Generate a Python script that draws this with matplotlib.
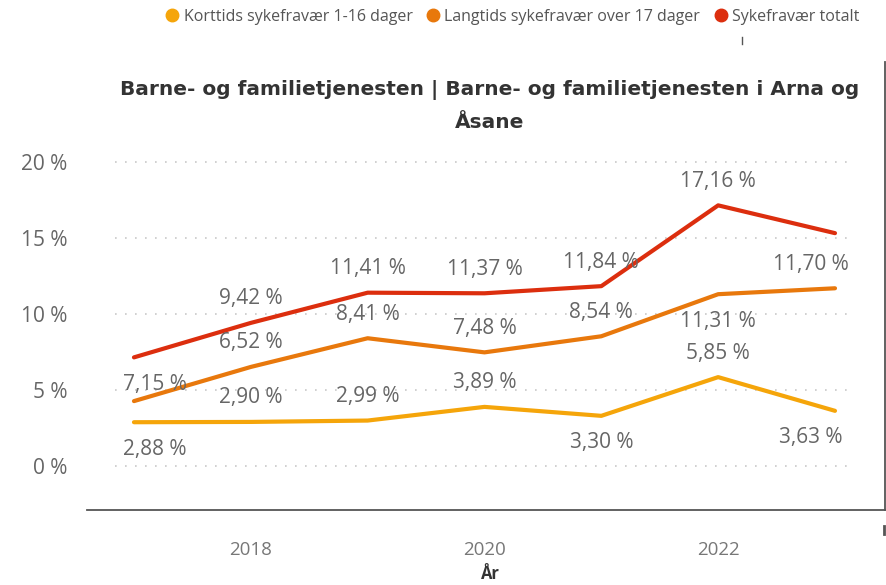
import matplotlib.pyplot as plt
from matplotlib.lines import Line2D
import matplotlib.transforms as mtransforms

# data
years = [2017, 2018, 2019, 2020, 2021, 2022, 2023]
korttids = [2.88, 2.90, 2.99, 3.89, 3.30, 5.85, 3.63]
langtids = [4.27, 6.52, 8.41, 7.48, 8.54, 11.31, 11.70]
totalt = [7.15, 9.42, 11.41, 11.37, 11.84, 17.16, 15.33]

series_names = ["Korttids sykefravær 1-16 dager",
                "Langtids sykefravær over 17 dager",
                "Sykefravær totalt"]
colors = ["#F5A50A", "#E8780C", "#DC2E0E"]

y_ticks = [0, 5, 10, 15, 20]
x_ticks = [2018, 2020, 2022]

# where each data label sits: 'a' above, 'b' below, None = hidden
label_pos = [
    ['b', 'a', 'a', 'a', 'b', 'a', 'b'],
    [None, 'a', 'a', 'a', 'a', 'b', 'a'],
    ['b', 'a', 'a', 'a', 'a', 'a', None],
]

plt.rcParams['font.family'] = ['Open Sans', 'DejaVu Sans']

fig = plt.figure(figsize=(8.86, 5.85), dpi=100)
ax = fig.add_axes([87 / 886, 75 / 585, 798 / 886, 448 / 585])

ax.set_xlim(2016.598, 2023.428)
ax.set_ylim(-2.9, 26.6)

# dotted gridlines, not spanning the whole axes
trans = mtransforms.blended_transform_factory(ax.transAxes, ax.transData)
for t in y_ticks:
    ax.plot([0.035, 0.952], [t, t], transform=trans, color="#C8C8C8",
            linestyle=(0, (1, 5)), linewidth=1.2, zorder=1)

all_series = [korttids, langtids, totalt]
for vals, col, pos in zip(all_series, colors, label_pos):
    ax.plot(years, vals, color=col, linewidth=3, solid_capstyle='round', zorder=3)
    for i, (x, v) in enumerate(zip(years, vals)):
        p = pos[i]
        if p is None:
            continue
        dy = 24 if p == 'a' else -27
        dx = 0
        if i == 0:
            dx = 21
        elif i == len(years) - 1:
            dx = -24
        ax.annotate(f"{v:.2f} %".replace('.', ','), (x, v),
                    xytext=(dx, dy), textcoords='offset pixels',
                    ha='center', va='center', fontsize=15,
                    color="#666666", zorder=4)

ax.set_yticks(y_ticks)
ax.set_yticklabels([f"{t} %" for t in y_ticks], fontsize=15, color="#666666")
ax.set_xticks(x_ticks)
ax.set_xticklabels([str(t) for t in x_ticks], fontsize=13.5, color="#777777")
ax.tick_params(axis='y', length=0, pad=14)
ax.tick_params(axis='x', length=0, pad=22)

for s in ['top', 'left']:
    ax.spines[s].set_visible(False)
for s in ['bottom', 'right']:
    ax.spines[s].set_color("#555555")
    ax.spines[s].set_linewidth(1.3)

# title
fig.text(490 / 886, 1 - 90 / 585,
         "Barne- og familietjenesten | Barne- og familietjenesten i Arna og",
         ha='center', va='center', fontsize=14.5, fontweight='bold',
         color="#333333", family=['Liberation Sans Narrow', 'DejaVu Sans'])
fig.text(490 / 886, 1 - 122 / 585, "Åsane",
         ha='center', va='center', fontsize=14.5, fontweight='bold',
         color="#333333", family=['Liberation Sans Narrow', 'DejaVu Sans'])

# x axis title near the bottom edge
fig.text(490 / 886, 1 - 574 / 585, "År", ha='center', va='center',
         fontsize=12, fontweight='bold', color="#333333")

# legend
handles = [Line2D([], [], marker='o', linestyle='none', color=c, markersize=9)
           for c in colors]
fig.legend(handles, series_names, loc='center', bbox_to_anchor=(508 / 886, 1 - 17 / 585),
           ncol=3, frameon=False, fontsize=11.5, handletextpad=-0.3,
           columnspacing=0.3, labelcolor="#555555", borderaxespad=0)

# small stray marks from the screenshot
fig.add_artist(Line2D([742 / 886, 742 / 886], [1 - 37 / 585, 1 - 44 / 585],
                      color="#555555", linewidth=1))
fig.add_artist(Line2D([884 / 886, 884 / 886], [1 - 526 / 585, 1 - 534 / 585],
                      color="#555555", linewidth=2))

fig.savefig("out.png", dpi=100)
